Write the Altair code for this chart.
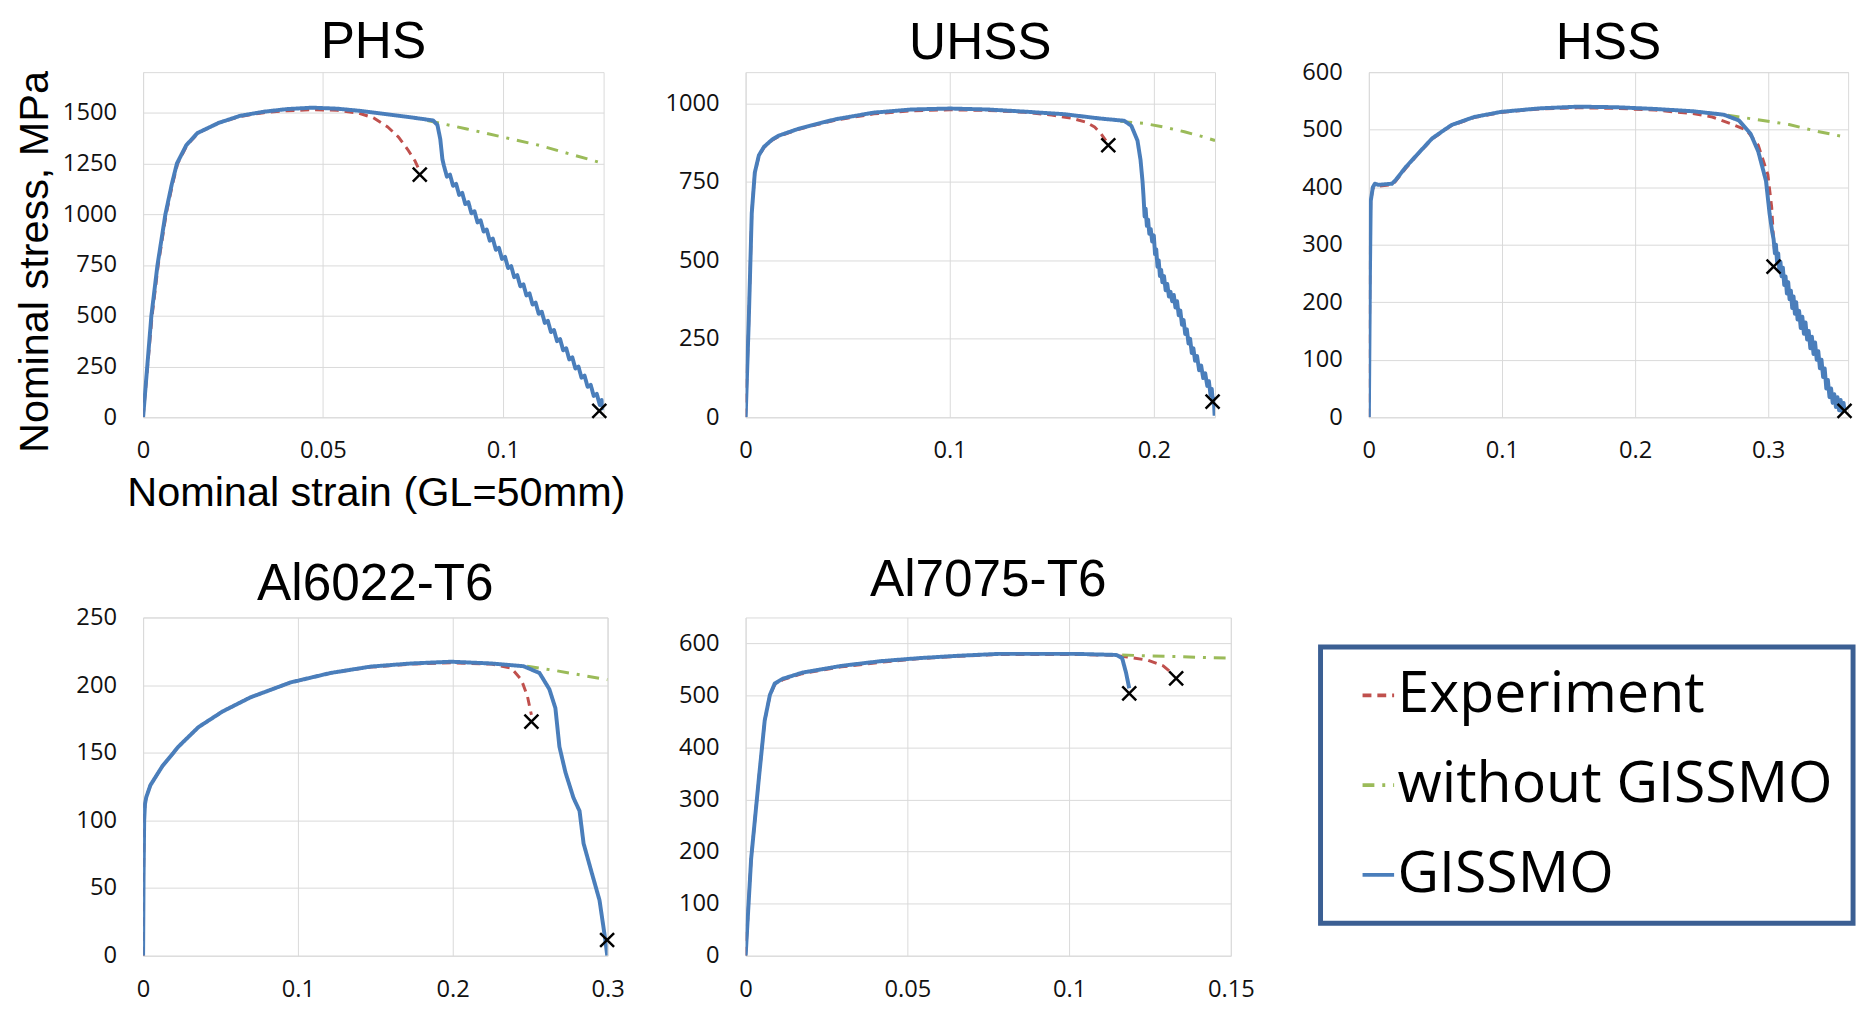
import altair as alt
import pandas as pd

# ---------------- data ----------------
SERIES = ["Experiment", "without GISSMO", "GISSMO"]
SERIES_COLORS = ["#C0504D", "#9BBB59", "#4A7EBB"]
SERIES_DASHES = [[9, 6], [12, 8, 3, 8], [1, 0]]

PANELS = ["PHS", "UHSS", "HSS", "Al6022-T6", "Al7075-T6"]

# (strain, stress MPa)
PHS_EXPERIMENT = [(0, 0), (0.0025, 500), (0.0042, 750), (0.0064, 1000), (0.0082, 1150), (0.0096, 1250),
                  (0.0122, 1340), (0.0153, 1400), (0.0210, 1450), (0.0270, 1482), (0.0335, 1500),
                  (0.0400, 1510), (0.0470, 1515), (0.0540, 1512), (0.0600, 1498), (0.0640, 1475),
                  (0.0680, 1430), (0.0710, 1380), (0.0735, 1320), (0.0755, 1265), (0.0768, 1215)]
PHS_WITHOUT = [(0.0790, 1462), (0.0900, 1420), (0.1000, 1380), (0.1100, 1340), (0.1200, 1290), (0.1280, 1250)]
PHS_GISSMO = [(0, 0), (0.0023, 500), (0.0040, 750), (0.0062, 1000), (0.0080, 1150), (0.0094, 1250),
              (0.0120, 1340), (0.0151, 1400), (0.0210, 1450), (0.0270, 1485), (0.0335, 1505),
              (0.0400, 1518), (0.0470, 1525), (0.0540, 1520), (0.0610, 1508), (0.0680, 1492),
              (0.0750, 1476), (0.0806, 1462), (0.0818, 1440), (0.0826, 1370), (0.0832, 1270),
              (0.0836, 1240), (0.08445, 1185), (0.0853, 1195), (0.08615, 1140), (0.0870, 1150),
              (0.08785, 1095), (0.0887, 1105), (0.08955, 1050), (0.0904, 1060), (0.09125, 1005),
              (0.0921, 1015), (0.09295, 960), (0.0938, 970), (0.09465, 915), (0.0955, 925),
              (0.09635, 870), (0.0972, 880), (0.09805, 825), (0.0989, 835), (0.09975, 780),
              (0.1006, 790), (0.10145, 735), (0.1023, 745), (0.10315, 690), (0.1040, 700),
              (0.10485, 645), (0.1057, 655), (0.10655, 600), (0.1074, 610), (0.10825, 555),
              (0.1091, 565), (0.10995, 510), (0.1108, 520), (0.11165, 465), (0.1125, 475),
              (0.11335, 420), (0.1142, 430), (0.11505, 375), (0.1159, 385), (0.11675, 330),
              (0.1176, 340), (0.11845, 285), (0.1193, 295), (0.12015, 240), (0.1210, 250),
              (0.12185, 195), (0.1227, 205), (0.12355, 150), (0.1244, 160), (0.12525, 105),
              (0.1261, 115), (0.12695, 60), (0.1275, 85), (0.1279, 35)]

UHSS_EXPERIMENT = [(0, 0), (0.0015, 300), (0.0030, 650), (0.0045, 780), (0.0065, 832), (0.0090, 860),
                   (0.0130, 883), (0.0164, 896), (0.0257, 917), (0.0350, 933), (0.0442, 947),
                   (0.0628, 967), (0.0814, 977), (0.1000, 980), (0.1186, 978), (0.1370, 972),
                   (0.1500, 963), (0.1600, 953), (0.1670, 940), (0.1710, 925), (0.1740, 905), (0.1765, 882)]
UHSS_WITHOUT = [(0.1836, 943), (0.1950, 937), (0.2050, 925), (0.2150, 910), (0.2230, 896), (0.2300, 882)]
UHSS_GISSMO = [(0, 0), (0.0015, 300), (0.0030, 650), (0.0045, 780), (0.0065, 835), (0.0090, 862),
               (0.0130, 885), (0.0164, 898), (0.0257, 919), (0.0350, 935), (0.0442, 950), (0.0628, 971),
               (0.0814, 981), (0.1000, 984), (0.1186, 981), (0.1370, 974), (0.1560, 966), (0.1740, 952),
               (0.1855, 945), (0.1890, 929), (0.1920, 882), (0.1935, 820), (0.1945, 750),
               (0.1950, 700), (0.1955, 640), (0.1960, 665), (0.1966, 610), (0.1972, 630), (0.1978, 585),
               (0.1985, 600), (0.1992, 560), (0.2000, 580), (0.2006, 520), (0.2012, 535), (0.2018, 480),
               (0.2024, 500), (0.2030, 450), (0.2036, 470), (0.2042, 430), (0.2050, 450), (0.2058, 405),
               (0.2066, 425), (0.2074, 385), (0.2082, 400), (0.2090, 370), (0.2098, 390), (0.2106, 350),
               (0.2114, 370), (0.2122, 325), (0.2130, 340), (0.2138, 295), (0.2146, 310), (0.2154, 265),
               (0.2162, 280), (0.2170, 235), (0.2178, 250), (0.2186, 205), (0.2194, 220), (0.2202, 180),
               (0.2212, 195), (0.2222, 150), (0.2232, 165), (0.2242, 125), (0.2252, 140), (0.2262, 100),
               (0.2270, 115), (0.2278, 70), (0.2284, 90), (0.2290, 45), (0.2294, 60), (0.2298, 5)]

HSS_EXPERIMENT = [(0, 0), (0.0008, 250), (0.0014, 376), (0.0030, 398), (0.0072, 402), (0.0173, 404),
                  (0.0200, 410), (0.0274, 432), (0.0360, 455), (0.0476, 484), (0.0620, 507), (0.0790, 521),
                  (0.0994, 530), (0.1280, 536), (0.1570, 538), (0.1860, 537), (0.2150, 534), (0.2435, 528),
                  (0.2580, 522), (0.2723, 510), (0.2838, 499), (0.2925, 473), (0.2997, 422), (0.3026, 365),
                  (0.3040, 308), (0.3052, 278)]
HSS_WITHOUT = [(0.2695, 525), (0.2900, 518), (0.3156, 509), (0.3350, 498), (0.3560, 488)]
HSS_GISSMO = [(0, 0), (0.0008, 250), (0.0014, 376), (0.0030, 400), (0.0045, 406), (0.0072, 404),
              (0.0120, 405), (0.0173, 406), (0.0200, 412), (0.0274, 434), (0.0360, 456), (0.0476, 485),
              (0.0620, 508), (0.0790, 522), (0.0994, 531), (0.1280, 537), (0.1570, 540), (0.1860, 539),
              (0.2150, 536), (0.2435, 532), (0.2666, 526), (0.2780, 516), (0.2867, 493), (0.2925, 462),
              (0.2983, 411), (0.3010, 354), (0.3030, 322),
              (0.3040, 310), (0.3050, 285), (0.3058, 300), (0.3066, 270), (0.3075, 285), (0.3083, 255),
              (0.3092, 270), (0.3100, 245), (0.3110, 260), (0.3120, 230), (0.3130, 245), (0.3140, 215),
              (0.3150, 235), (0.3160, 205), (0.3170, 220), (0.3180, 190), (0.3190, 210), (0.3200, 180),
              (0.3210, 200), (0.3220, 170), (0.3232, 185), (0.3244, 155), (0.3256, 175), (0.3268, 145),
              (0.3280, 165), (0.3292, 135), (0.3304, 150), (0.3316, 120), (0.3328, 140), (0.3340, 110),
              (0.3352, 130), (0.3364, 100), (0.3376, 115), (0.3388, 85), (0.3400, 100), (0.3412, 70),
              (0.3424, 85), (0.3436, 50), (0.3448, 65), (0.3460, 35), (0.3472, 50), (0.3484, 25),
              (0.3496, 40), (0.3508, 18), (0.3520, 35), (0.3532, 12), (0.3544, 30), (0.3556, 10),
              (0.3566, 25), (0.3572, 12)]

AL6022_EXPERIMENT = [(0, 0), (0.0003, 60), (0.0007, 100), (0.0012, 112), (0.0020, 117), (0.0047, 126),
                     (0.0124, 140), (0.0228, 154.5), (0.0358, 169), (0.0513, 180.5), (0.0694, 191),
                     (0.0953, 202), (0.1212, 209), (0.1470, 213.3), (0.1730, 215.5), (0.1990, 216.5),
                     (0.2249, 215.5), (0.2378, 212.6), (0.2443, 204), (0.2482, 192), (0.2508, 178)]
AL6022_WITHOUT = [(0.2480, 214), (0.2650, 211), (0.2800, 208), (0.3000, 204)]
AL6022_GISSMO = [(0, 0), (0.0003, 60), (0.0007, 100), (0.0012, 112), (0.0020, 117), (0.0047, 126),
                 (0.0124, 140), (0.0228, 154.5), (0.0358, 169), (0.0513, 180.5), (0.0694, 191),
                 (0.0953, 202), (0.1212, 209), (0.1470, 213.7), (0.1730, 216), (0.1990, 217.3),
                 (0.2249, 216), (0.2456, 214), (0.2560, 209), (0.2624, 197), (0.2663, 183),
                 (0.2689, 154.5), (0.2728, 135.5), (0.2780, 116.6), (0.2819, 107), (0.2845, 83),
                 (0.2896, 62), (0.2948, 41), (0.2985, 12), (0.2998, 0)]

AL7075_EXPERIMENT = [(0, 0), (0.0017, 186), (0.0041, 341), (0.0059, 452), (0.0075, 500), (0.0090, 521),
                     (0.0114, 530), (0.0175, 542), (0.0296, 555), (0.0417, 564), (0.0539, 571),
                     (0.0660, 575.5), (0.0782, 579), (0.0903, 579), (0.1024, 579), (0.1146, 577),
                     (0.1180, 574), (0.1243, 568), (0.1291, 557), (0.1322, 541)]
AL7075_WITHOUT = [(0.1164, 578), (0.1250, 576), (0.1330, 575), (0.1420, 573), (0.1500, 572)]
AL7075_GISSMO = [(0, 0), (0.0017, 186), (0.0041, 341), (0.0059, 452), (0.0075, 501), (0.0090, 523),
                 (0.0114, 532), (0.0175, 544), (0.0296, 557), (0.0417, 566), (0.0539, 572),
                 (0.0660, 576.5), (0.0782, 580), (0.0903, 580), (0.1024, 580), (0.1146, 578),
                 (0.1164, 572), (0.1176, 544), (0.1186, 514)]

# fracture points (x markers)
FAIL_PANEL = ["PHS", "PHS", "UHSS", "UHSS", "HSS", "HSS", "Al6022-T6", "Al6022-T6", "Al7075-T6", "Al7075-T6"]
FAIL_STRAIN = [0.0769, 0.1268, 0.1777, 0.2288, 0.3040, 0.3573, 0.2508, 0.2997, 0.1186, 0.1331]
FAIL_STRESS = [1195, 32, 867, 50, 262, 11, 173, 11.6, 504, 533]

# axis ranges / tick labels
PHS_XTICKS, PHS_YTICKS = [0, 0.05, 0.1], [0, 250, 500, 750, 1000, 1250, 1500]
UHSS_XTICKS, UHSS_YTICKS = [0, 0.1, 0.2], [0, 250, 500, 750, 1000]
HSS_XTICKS, HSS_YTICKS = [0, 0.1, 0.2, 0.3], [0, 100, 200, 300, 400, 500, 600]
AL6022_XTICKS, AL6022_YTICKS = [0, 0.1, 0.2, 0.3], [0, 50, 100, 150, 200, 250]
AL7075_XTICKS, AL7075_YTICKS = [0, 0.05, 0.1, 0.15], [0, 100, 200, 300, 400, 500, 600]

CURVES = [
    ("PHS", "Experiment", PHS_EXPERIMENT), ("PHS", "without GISSMO", PHS_WITHOUT), ("PHS", "GISSMO", PHS_GISSMO),
    ("UHSS", "Experiment", UHSS_EXPERIMENT), ("UHSS", "without GISSMO", UHSS_WITHOUT), ("UHSS", "GISSMO", UHSS_GISSMO),
    ("HSS", "Experiment", HSS_EXPERIMENT), ("HSS", "without GISSMO", HSS_WITHOUT), ("HSS", "GISSMO", HSS_GISSMO),
    ("Al6022-T6", "Experiment", AL6022_EXPERIMENT), ("Al6022-T6", "without GISSMO", AL6022_WITHOUT),
    ("Al6022-T6", "GISSMO", AL6022_GISSMO),
    ("Al7075-T6", "Experiment", AL7075_EXPERIMENT), ("Al7075-T6", "without GISSMO", AL7075_WITHOUT),
    ("Al7075-T6", "GISSMO", AL7075_GISSMO),
]

rows = []
for panel_name, series, pts in CURVES:
    for i, (sx, sy) in enumerate(pts):
        rows.append({"panel": panel_name, "series": series, "i": i, "strain": sx, "stress": sy})
curves = pd.DataFrame(rows)
fails = pd.DataFrame({"panel": FAIL_PANEL, "strain": FAIL_STRAIN, "stress": FAIL_STRESS})

# ---------------- chart ----------------
X_SHAPE = "M -1 -1 L 1 1 M -1 1 L 1 -1"
LEGEND_LINE = "M -0.4 0 H 1.6"
GRID = "#D9D9D9"

LEGEND = alt.Legend(
    orient="none", legendX=1194, legendY=583, title=None,
    symbolType=LEGEND_LINE, symbolSize=1024, symbolStrokeWidth=4,
    labelFont="Open Sans", labelFontSize=58, labelColor="black", labelOffset=0, labelLimit=800,
    padding=20, rowPadding=33, strokeColor="#3B5F93",
)

COLOR = alt.Color("series:N", scale=alt.Scale(domain=SERIES, range=SERIES_COLORS), legend=LEGEND)
DASH = alt.StrokeDash("series:N", scale=alt.Scale(domain=SERIES, range=SERIES_DASHES), legend=LEGEND)


def make_panel(name, w, h, xmax, xticks, ymax, yticks, title_offset, with_titles=False):
    xaxis = dict(values=xticks, format=".2~f", labelPadding=22, labelFlush=False, labelOverlap=False)
    yaxis = dict(values=yticks, format="d", labelPadding=27, labelOverlap=False)
    if with_titles:
        xaxis.update(title="Nominal strain (GL=50mm)", titleFont="Liberation Sans", titleFontSize=42,
                     titleFontWeight="normal", titleColor="black", titleBaseline="alphabetic",
                     titleAlign="center", titleX=236, titleY=89)
        yaxis.update(title="Nominal stress, MPa", titleFont="Liberation Sans", titleFontSize=42,
                     titleFontWeight="normal", titleColor="black", titleAngle=270,
                     titleBaseline="alphabetic", titleAlign="center", titleX=-97, titleY=192)
    else:
        xaxis.update(title=None)
        yaxis.update(title=None)
    X = alt.X("strain:Q", scale=alt.Scale(domain=[0, xmax], nice=False, zero=False), axis=alt.Axis(**xaxis))
    Y = alt.Y("stress:Q", scale=alt.Scale(domain=[0, ymax], nice=False, zero=False), axis=alt.Axis(**yaxis))

    base = alt.Chart(curves).transform_filter(alt.datum.panel == name)

    def line(series, width):
        return base.transform_filter(alt.datum.series == series).mark_line(
            strokeWidth=width, strokeJoin="round", clip=True
        ).encode(x=X, y=Y, color=COLOR, strokeDash=DASH, order="i:Q")

    marks = alt.Chart(fails).transform_filter(alt.datum.panel == name).mark_point(
        shape=X_SHAPE, size=200, filled=False, color="black", strokeWidth=2.5, opacity=1
    ).encode(x=X, y=Y)

    return alt.layer(
        line("Experiment", 3), line("without GISSMO", 3), line("GISSMO", 4), marks
    ).properties(
        width=w, height=h,
        title=alt.TitleParams(text=name, font="Liberation Sans", fontSize=52, fontWeight="normal",
                              color="black", anchor="middle", frame="group", offset=title_offset),
    )


p_phs = make_panel("PHS", 467, 350, 0.128, PHS_XTICKS, 1700, PHS_YTICKS, 2, with_titles=True)
p_uhss = make_panel("UHSS", 476, 350, 0.23, UHSS_XTICKS, 1100, UHSS_YTICKS, 2)
p_hss = make_panel("HSS", 486, 350, 0.36, HSS_XTICKS, 600, HSS_YTICKS, -10)
p_al6 = make_panel("Al6022-T6", 471, 343, 0.3, AL6022_XTICKS, 250, AL6022_YTICKS, -5)
p_al7 = make_panel("Al7075-T6", 492, 343, 0.15, AL7075_XTICKS, 650, AL7075_YTICKS, 11)

chart = alt.concat(
    p_phs, p_uhss, p_hss, p_al6, p_al7,
    columns=3, bounds="flush", align="none", spacing={"row": 203, "column": 140},
).properties(
    padding={"left": 5, "top": 0, "right": 0, "bottom": 0},
    background="white",
).configure_view(
    stroke=GRID, strokeWidth=1,
).configure_axis(
    grid=True, gridColor=GRID, gridWidth=1, domain=False, ticks=False, tickSize=0,
    labelFont="Open Sans", labelFontSize=24, labelColor="#111111",
)

try:
    chart.configure_legend(strokeWidth=5).save("out.html", embed_options={"renderer": "svg", "actions": False})
except Exception:
    chart.save("out.html", embed_options={"renderer": "svg", "actions": False})
